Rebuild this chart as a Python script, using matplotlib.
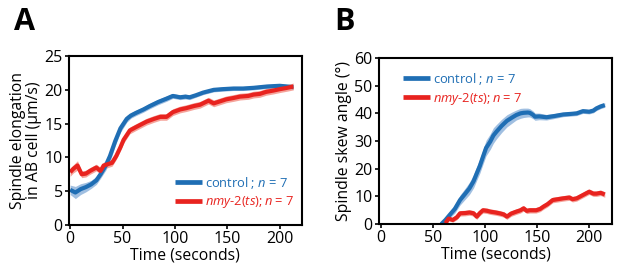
import matplotlib
matplotlib.use("Agg")
import matplotlib.pyplot as plt
import numpy as np

plt.rcParams['font.family'] = ['Open Sans', 'DejaVu Sans']
plt.rcParams['mathtext.fontset'] = 'custom'
plt.rcParams['mathtext.rm'] = 'Open Sans'
plt.rcParams['mathtext.it'] = 'Open Sans:italic'

# Panel A: spindle elongation
tA_ctrl = [0, 5, 10, 15, 20, 25, 29, 34, 38, 43, 48, 54, 58, 63, 70, 76, 84, 92, 98, 105, 110, 114, 120, 127, 132, 137, 145, 156, 165, 175, 188, 200, 207, 213]
yA_ctrl = [5.2, 4.8, 5.3, 5.6, 6.0, 6.6, 7.5, 8.8, 10.2, 12.4, 14.3, 15.7, 16.2, 16.6, 17.1, 17.6, 18.2, 18.7, 19.1, 18.9, 19.0, 18.9, 19.2, 19.6, 19.8, 20.0, 20.1, 20.2, 20.2, 20.3, 20.5, 20.6, 20.5, 20.4]
sA_ctrl = [0.7, 0.9, 0.8, 0.7, 0.6, 0.6, 0.6, 0.7, 0.8, 0.7, 0.6, 0.5, 0.4, 0.4, 0.4, 0.4, 0.4, 0.4, 0.35, 0.35, 0.35, 0.35, 0.3, 0.3, 0.3, 0.3, 0.3, 0.3, 0.3, 0.3, 0.3, 0.3, 0.3, 0.3]

tA_nmy = [0, 3, 7, 11, 15, 19, 25, 29, 32, 36, 40, 44, 48, 51, 57, 63, 68, 73, 80, 86, 92, 98, 105, 111, 118, 124, 132, 137, 143, 149, 156, 162, 170, 175, 181, 187, 194, 200, 207, 213]
yA_nmy = [7.8, 8.3, 8.8, 7.5, 7.6, 8.0, 8.5, 8.0, 8.8, 9.0, 9.2, 10.2, 11.5, 12.6, 14.0, 14.5, 14.9, 15.3, 15.7, 16.0, 16.0, 16.7, 17.1, 17.3, 17.6, 17.8, 18.4, 18.0, 18.3, 18.6, 18.8, 19.0, 19.1, 19.3, 19.4, 19.7, 19.9, 20.1, 20.3, 20.5]
sA_nmy = [0.6, 0.6, 0.7, 0.5, 0.5, 0.5, 0.5, 0.5, 0.5, 0.5, 0.5, 0.5, 0.5, 0.5, 0.5, 0.5, 0.5, 0.5, 0.5, 0.5, 0.5, 0.5, 0.5, 0.5, 0.5, 0.5, 0.5, 0.5, 0.5, 0.5, 0.5, 0.5, 0.5, 0.5, 0.5, 0.5, 0.5, 0.5, 0.5, 0.5]

# Panel B: spindle skew angle
tB_ctrl = [58, 62, 66, 71, 76, 81, 85, 89, 92, 95, 98, 101, 105, 108, 111, 116, 121, 126, 130, 134, 137, 141, 143, 146, 148, 152, 159, 166, 175, 182, 188, 194, 200, 204, 207, 211, 215]
yB_ctrl = [0.0, 1.5, 3.3, 5.5, 8.7, 11.0, 12.9, 15.5, 18.3, 21.0, 24.3, 27.5, 29.8, 32.0, 33.4, 35.5, 37.3, 38.5, 39.4, 40.0, 40.2, 40.3, 40.2, 39.5, 38.8, 38.9, 38.6, 39.0, 39.6, 39.8, 40.0, 40.8, 40.6, 41.0, 41.8, 42.5, 43.0]
sB_ctrl = [0.8, 1.0, 1.2, 1.5, 1.8, 2.0, 2.2, 2.4, 2.5, 2.6, 2.7, 2.8, 2.8, 2.8, 2.6, 2.4, 2.2, 2.0, 1.8, 1.8, 1.7, 1.6, 1.5, 1.4, 1.3, 1.2, 1.0, 0.9, 0.8, 0.8, 0.8, 0.8, 0.8, 0.8, 0.8, 0.8, 0.8]

tB_nmy = [62, 65, 69, 73, 76, 81, 85, 89, 92, 95, 98, 102, 105, 110, 114, 118, 121, 125, 130, 134, 137, 140, 143, 149, 153, 156, 160, 165, 170, 175, 181, 184, 188, 194, 200, 204, 207, 211, 215]
yB_nmy = [0.3, 2.0, 1.5, 2.5, 3.9, 4.0, 4.2, 3.9, 2.7, 4.0, 5.0, 4.8, 4.5, 4.2, 3.9, 3.5, 2.7, 3.8, 4.5, 5.0, 5.7, 4.8, 5.0, 5.0, 5.5, 6.3, 7.2, 8.7, 9.0, 9.3, 9.6, 9.0, 9.3, 10.5, 11.7, 11.0, 11.0, 11.3, 10.7]
sB_nmy = [0.6, 0.8, 0.8, 0.9, 1.0, 1.0, 1.0, 1.0, 1.0, 1.0, 1.0, 1.0, 1.0, 1.0, 1.0, 1.0, 1.0, 1.0, 1.0, 1.0, 1.0, 1.0, 1.0, 1.0, 1.0, 1.0, 1.0, 1.0, 1.0, 1.0, 1.0, 1.0, 1.0, 1.0, 1.0, 1.0, 1.0, 1.0, 1.0]

BLUE = '#1f6eb4'
RED = '#e8231f'
BLUE_F = '#8fb4dc'
RED_F = '#f4948a'

lab_ctrl = 'control ; $n$ = 7'
lab_nmy = '$nmy$-$2(ts); n$ = 7'

fig = plt.figure(figsize=(6.17, 2.71), dpi=100)
axA = fig.add_axes([0.112, 0.170, 0.377, 0.623])
axB = fig.add_axes([0.614, 0.173, 0.378, 0.613])

def draw(ax, t, y, s, c, cf, lab):
    t = np.array(t); y = np.array(y); s = np.array(s)
    ax.fill_between(t, y - s, y + s, color=cf, alpha=0.85, lw=0)
    ax.plot(t, y, color=c, lw=3.0, label=lab, solid_capstyle='butt')

draw(axA, tA_ctrl, yA_ctrl, sA_ctrl, BLUE, BLUE_F, lab_ctrl)
draw(axA, tA_nmy, yA_nmy, sA_nmy, RED, RED_F, lab_nmy)
draw(axB, tB_ctrl, yB_ctrl, sB_ctrl, BLUE, BLUE_F, lab_ctrl)
draw(axB, tB_nmy, yB_nmy, sB_nmy, RED, RED_F, lab_nmy)

axA.set_xlim(-1, 221)
axA.set_ylim(0, 25)
axA.set_yticks([0, 5, 10, 15, 20, 25])
axB.set_xlim(-2, 222)
axB.set_ylim(0, 60)
axB.set_yticks([0, 10, 20, 30, 40, 50, 60])
for ax in (axA, axB):
    ax.set_xticks([0, 50, 100, 150, 200])
    for sp in ax.spines.values():
        sp.set_linewidth(1.5)
    ax.tick_params(direction='out', length=3, width=1.2, labelsize=11.5, pad=1.5)
    ax.set_xlabel('Time (seconds)', fontsize=11.3, labelpad=0)

axA.set_ylabel('Spindle elongation\nin AB cell (µm/s)', fontsize=11.3, labelpad=2, linespacing=1.0)
axB.set_ylabel('Spindle skew angle (°)', fontsize=11.3, labelpad=2)

legA = axA.legend(loc='lower right', bbox_to_anchor=(1.0, 0.04), frameon=False, fontsize=9.3,
                  handlelength=2.1, handletextpad=0.2, labelspacing=0.3, borderaxespad=0.2)
legB = axB.legend(loc='upper left', bbox_to_anchor=(0.07, 0.97), frameon=False, fontsize=9.3,
                  handlelength=2.1, handletextpad=0.2, labelspacing=0.3, borderaxespad=0.2)
for leg in (legA, legB):
    for txt, c in zip(leg.get_texts(), [BLUE, RED]):
        txt.set_color(c)
    for ln in leg.get_lines():
        ln.set_linewidth(3.4)

fig.text(0.022, 0.975, 'A', fontsize=22, fontweight='bold', va='top', ha='left', family='Open Sans')
fig.text(0.541, 0.975, 'B', fontsize=22, fontweight='bold', va='top', ha='left', family='Open Sans')

fig.savefig('out.png', dpi=100)
